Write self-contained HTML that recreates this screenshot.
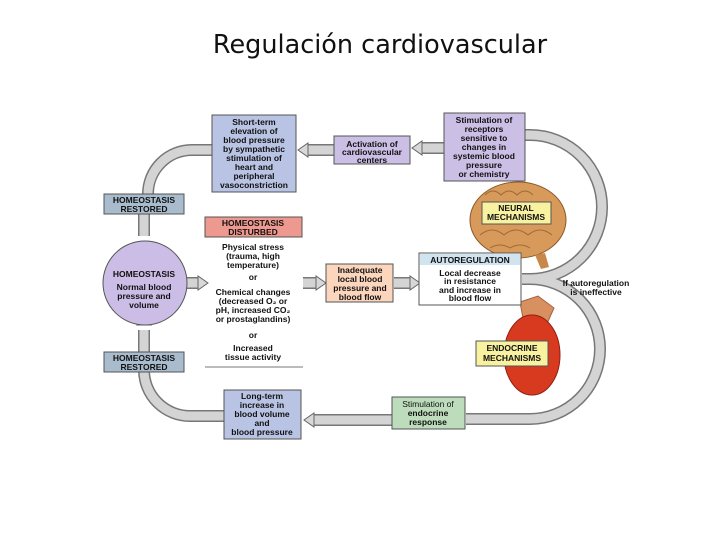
<!DOCTYPE html>
<html><head><meta charset="utf-8"><style>
body{margin:0;background:#fff;width:720px;height:540px;overflow:hidden}
svg text{font-family:"Liberation Sans",sans-serif;font-weight:bold;font-size:8.5px;text-anchor:middle;fill:#111}
</style></head><body>
<svg width="720" height="540" viewBox="0 0 720 540">
<defs>
<g id="ah"><path d="M0,-7 L0,7 L-10,0 Z" fill="#d8d8d8" stroke="#666" stroke-width="1"/></g>
</defs>
<text x="380" y="53" style="font-family:'DejaVu Sans',sans-serif;font-size:25.5px;font-weight:normal">Regulación cardiovascular</text>

<!-- tubes -->
<g fill="none" stroke-linecap="butt">
<g stroke="#777" stroke-width="12">
<path d="M212,150 L192,150 A44,44 0 0 0 148,194"/>
<path d="M144,214 L144,236"/>
<path d="M224,416 L190,416 A46,46 0 0 1 144,370"/>
<path d="M144,352 L144,330"/>
<path d="M525,135 L530,135 A72,72 0 0 1 530,279 L522,279"/>
<path d="M522,279 L530,279 A70,70 0 0 1 530,419 L466,419"/>
<path d="M444,148 L420,148"/><path d="M334,150 L306,150"/>
<path d="M187,283 L200,283"/><path d="M303,283 L318,283"/><path d="M394,283 L412,283"/>
<path d="M392,420 L312,420"/>
</g>
<g stroke="#d4d4d4" stroke-width="9">
<path d="M212,150 L192,150 A44,44 0 0 0 148,194"/>
<path d="M144,214 L144,236"/>
<path d="M224,416 L190,416 A46,46 0 0 1 144,370"/>
<path d="M144,352 L144,330"/>
<path d="M525,135 L530,135 A72,72 0 0 1 530,279 L522,279"/>
<path d="M522,279 L530,279 A70,70 0 0 1 530,419 L466,419"/>
<path d="M444,148 L420,148"/><path d="M334,150 L306,150"/>
<path d="M187,283 L200,283"/><path d="M303,283 L318,283"/><path d="M394,283 L412,283"/>
<path d="M392,420 L312,420"/>
</g>
</g>
<use href="#ah" transform="translate(422,148)"/>
<use href="#ah" transform="translate(308,150)"/>
<use href="#ah" transform="translate(314,420)"/>
<use href="#ah" transform="translate(198,283) rotate(180)"/>
<use href="#ah" transform="translate(316,283) rotate(180)"/>
<use href="#ah" transform="translate(410,283) rotate(180)"/>
<use href="#ah" transform="translate(144,242) rotate(-90)"/>
<use href="#ah" transform="translate(144,325) rotate(90)"/>

<!-- brain -->
<ellipse cx="518" cy="220" rx="48" ry="38" fill="#d89a5a" stroke="#8a5a2a"/>
<path d="M490,210 q10,-12 20,0 q10,-12 20,0 q10,-12 20,0 M480,235 q12,-10 24,0 q12,-10 24,0 q12,-10 24,0 M485,195 q8,-8 16,0 q8,-8 16,0 q8,-8 16,0 M490,248 q10,-6 20,0 q10,-6 20,0" fill="none" stroke="#9a6a3a"/>
<path d="M535,255 l6,14 l8,-2 l-4,-14z" fill="#c8884a"/>
<!-- kidney -->
<path d="M520,302 l18,-6 l16,12 l-8,18 l-22,-2z" fill="#d89060" stroke="#a86040"/>
<ellipse cx="532" cy="355" rx="28" ry="40" fill="#d83a20" stroke="#902010"/>

<!-- boxes -->
<g stroke="#555" stroke-width="1">
<rect x="212" y="115" width="84" height="77" fill="#b9c3e3"/>
<rect x="334" y="136" width="76" height="28" fill="#cbbfe5"/>
<rect x="444" y="113" width="81" height="68" fill="#cbbfe5"/>
<rect x="104" y="194" width="80" height="20" fill="#a9bccd"/>
<rect x="104" y="352" width="80" height="20" fill="#a9bccd"/>
<rect x="205" y="217" width="97" height="20" fill="#ee9990"/>
<circle cx="145" cy="283" r="42" fill="#cbbde5"/>
<rect x="326" y="264" width="67" height="38" fill="#fcd5bd"/>
<rect x="419" y="253" width="102" height="52" fill="#fff"/>
<rect x="420" y="254" width="100" height="11" fill="#d0e4f0" stroke="none"/>
<rect x="482" y="202" width="69" height="22" fill="#f8f2a0"/>
<rect x="476" y="341" width="72" height="25" fill="#f8f2a0"/>
<rect x="224" y="390" width="77" height="49" fill="#b9c3e3"/>
<rect x="392" y="397" width="73" height="32" fill="#bcdcbc"/>
</g>
<line x1="205" y1="367" x2="303" y2="367" stroke="#777"/>

<text x="254" y="125">Short-term</text><text x="254" y="134">elevation of</text><text x="254" y="143">blood pressure</text><text x="254" y="152">by sympathetic</text><text x="254" y="161">stimulation of</text><text x="254" y="170">heart and</text><text x="254" y="179">peripheral</text><text x="254" y="188">vasoconstriction</text>
<text x="372" y="147">Activation of</text><text x="372" y="155">cardiovascular</text><text x="372" y="163">centers</text>
<text x="484" y="123">Stimulation of</text><text x="484" y="132">receptors</text><text x="484" y="141">sensitive to</text><text x="484" y="150">changes in</text><text x="484" y="159">systemic blood</text><text x="484" y="168">pressure</text><text x="484" y="177">or chemistry</text>
<text x="144" y="203">HOMEOSTASIS</text><text x="144" y="212">RESTORED</text>
<text x="144" y="361">HOMEOSTASIS</text><text x="144" y="370">RESTORED</text>
<text x="253" y="226">HOMEOSTASIS</text><text x="253" y="235">DISTURBED</text>
<text x="144" y="277">HOMEOSTASIS</text><text x="144" y="290">Normal blood</text><text x="144" y="299">pressure and</text><text x="144" y="308">volume</text>
<text x="253" y="250">Physical stress</text><text x="253" y="259">(trauma, high</text><text x="253" y="268">temperature)</text><text x="253" y="280">or</text>
<text x="253" y="295">Chemical changes</text><text x="253" y="304">(decreased O₂ or</text><text x="253" y="313">pH, increased CO₂</text><text x="253" y="322">or prostaglandins)</text><text x="253" y="338">or</text>
<text x="253" y="351">Increased</text><text x="253" y="360">tissue activity</text>
<text x="360" y="273">Inadequate</text><text x="360" y="282">local blood</text><text x="360" y="291">pressure and</text><text x="360" y="300">blood flow</text>
<text x="470" y="263">AUTOREGULATION</text><text x="470" y="276">Local decrease</text><text x="470" y="284">in resistance</text><text x="470" y="293">and increase in</text><text x="470" y="301">blood flow</text>
<text x="516" y="211">NEURAL</text><text x="516" y="220">MECHANISMS</text>
<text x="512" y="351">ENDOCRINE</text><text x="512" y="361">MECHANISMS</text>
<text x="596" y="286">If autoregulation</text><text x="596" y="295">is ineffective</text>
<text x="262" y="399">Long-term</text><text x="262" y="408">increase in</text><text x="262" y="417">blood volume</text><text x="262" y="426">and</text><text x="262" y="435">blood pressure</text>
<text x="428" y="407" style="font-weight:normal">Stimulation of</text><text x="428" y="416">endocrine</text><text x="428" y="425">response</text>
</svg>
</body></html>
